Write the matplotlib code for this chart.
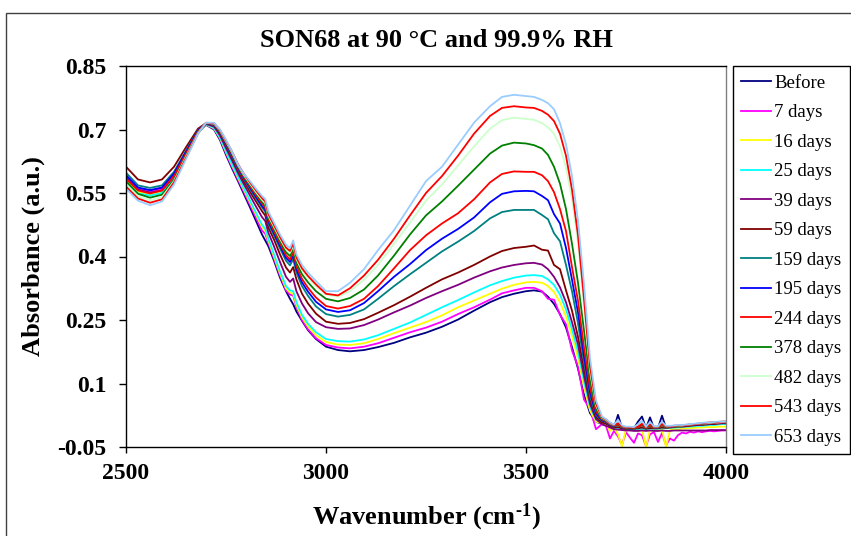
import matplotlib
matplotlib.use('Agg')
import matplotlib.pyplot as plt
from matplotlib.patches import Rectangle

plt.rcParams['font.family'] = ['Liberation Serif', 'DejaVu Serif']
plt.rcParams['mathtext.fontset'] = 'custom'
plt.rcParams['mathtext.rm'] = 'Liberation Serif:bold'
plt.rcParams['mathtext.default'] = 'regular'

# FTIR spectra of SON68 glass altered at 90 C / 99.9% RH
wavenumber = [2500, 2530, 2560, 2590, 2620, 2650, 2680, 2700, 2720,
              2735, 2750, 2765, 2780, 2795, 2810, 2825,
              2840, 2848, 2856, 2870, 2885, 2900, 2910, 2918, 2926, 2940, 2955, 2975,
              3000, 3030, 3060, 3095, 3130, 3170, 3210, 3250, 3290, 3330, 3370, 3410, 3440, 3470, 3500,
              3520, 3540, 3555, 3570, 3585, 3600, 3615, 3630, 3645, 3660, 3675, 3690,
              3700, 3710, 3720, 3730, 3740, 3750, 3760, 3770, 3780, 3790, 3800, 3810, 3820, 3830, 3840,
              3850, 3860, 3870, 3880, 3890, 3900, 3910, 3920, 3930, 3940, 3950, 3960, 3970, 3980, 3990, 4000]

labels = ['Before', '7 days', '16 days', '25 days', '39 days', '59 days', '159 days',
          '195 days', '244 days', '378 days', '482 days', '543 days', '653 days']

before = [.590, .560, .555, .561, .594, .643, .693, .711, .700,
          .675, .640, .608, .578, .547, .516, .484,
          .452, .438, .424, .390, .350, .318, .300, .287, .270, .248, .226, .205,
          .187, .179, .176, .179, .186, .196, .209, .220, .234, .251, .272, .292, .304, .312, .318,
          .320, .317, .305, .288, .264, .232, .186, .135, .074, .030, .010, .004,
          .001, -.002, -.004, .026, -.005, -.006, -.007, -.006, .010, .022, -.006, .020, -.006, -.005, .024,
          -.005, -.004, -.003, -.002, -.002, -.001, .000, .001, .002, .003, .004, .005, .005, .006, .007, .007]
days_7 = [.588, .559, .553, .559, .592, .641, .692, .711, .702,
          .678, .644, .612, .582, .552, .522, .492,
          .461, .454, .432, .395, .355, .320, .310, .308, .281, .250, .228, .207,
          .191, .185, .183, .187, .195, .208, .221, .232, .246, .264, .280, .298, .313, .320, .326,
          .326, .318, .300, .298, .262, .240, .178, .140, .062, .040, -.008, .004,
          .000, -.030, -.012, -.025, -.045, -.015, -.028, -.040, -.018, -.022, -.048, -.020, -.015, -.038, -.017,
          -.046, -.030, -.035, -.022, -.016, -.018, -.014, -.016, -.013, -.015, -.013, -.012, -.013, -.012, -.011, -.011]
days_16 = [.582, .553, .547, .553, .588, .638, .691, .712, .703,
           .680, .647, .616, .586, .557, .528, .499,
           .470, .461, .437, .400, .360, .325, .315, .312, .286, .256, .235, .214,
           .198, .192, .191, .195, .205, .219, .232, .245, .261, .280, .296, .312, .324, .333, .339,
           .340, .338, .330, .316, .292, .258, .212, .160, .092, .036, .010, .006,
           .004, -.012, -.005, -.020, -.048, -.008, -.010, -.006, -.012, -.008, -.050, -.009, -.006, -.012, -.008,
           -.050, -.010, -.007, -.009, -.006, -.006, -.005, -.005, -.004, -.004, -.003, -.003, -.003, -.002, -.002, -.002]
days_25 = [.576, .549, .544, .550, .586, .638, .691, .712, .704,
           .681, .649, .618, .589, .560, .532, .503,
           .475, .466, .442, .405, .365, .330, .320, .318, .292, .262, .241, .221,
           .205, .200, .199, .204, .214, .229, .244, .262, .280, .297, .315, .332, .342, .350, .355,
           .356, .354, .346, .333, .310, .275, .228, .175, .105, .045, .014, .008,
           .005, .000, -.004, -.006, -.008, -.008, -.008, -.008, -.008, -.007, -.008, -.007, -.007, -.007, -.006,
           -.006, -.005, -.004, -.004, -.003, -.002, -.002, -.001, .000, .000, .001, .002, .002, .003, .004, .004]
days_39 = [.586, .558, .551, .556, .590, .641, .693, .713, .707,
           .686, .656, .627, .597, .570, .544, .518,
           .493, .484, .456, .424, .387, .352, .340, .348, .318, .289, .266, .245,
           .233, .229, .230, .238, .251, .268, .284, .302, .318, .333, .350, .365, .374, .380, .384,
           .385, .381, .370, .352, .327, .292, .245, .192, .118, .052, .016, .004,
           .000, -.004, -.008, -.009, -.010, -.011, -.011, -.012, -.012, -.011, -.012, -.011, -.012, -.012, -.011,
           -.012, -.012, -.011, -.011, -.011, -.011, -.011, -.011, -.011, -.011, -.011, -.010, -.010, -.010, -.010, -.010]
days_59 = [.612, .582, .575, .582, .612, .658, .702, .715, .710,
           .690, .662, .633, .603, .577, .553, .530,
           .507, .497, .468, .440, .405, .374, .362, .375, .346, .312, .289, .265,
           .246, .241, .243, .252, .267, .285, .305, .326, .346, .362, .380, .400, .413, .420, .423,
           .426, .416, .414, .380, .370, .320, .272, .210, .135, .062, .021, .008,
           .005, .000, -.004, -.003, -.006, -.007, -.007, -.007, -.006, -.004, -.007, -.005, -.006, -.006, -.004,
           -.005, -.004, -.003, -.002, -.002, -.001, .000, .001, .002, .002, .003, .004, .004, .005, .006, .006]
days_159 = [.598, .568, .562, .568, .600, .650, .698, .715, .711,
            .693, .665, .637, .607, .582, .559, .537,
            .516, .506, .477, .450, .419, .390, .379, .394, .362, .330, .307, .282,
            .264, .258, .262, .275, .300, .330, .358, .385, .412, .435, .460, .490, .505, .510, .510,
            .510, .498, .488, .455, .436, .380, .318, .242, .150, .070, .026, .012,
            .009, .002, -.002, .002, -.004, -.006, -.006, -.006, -.004, .001, -.006, .000, -.005, -.005, .001,
            -.004, -.003, -.002, -.001, .000, .001, .002, .003, .004, .004, .005, .006, .007, .008, .008, .009]
days_195 = [.592, .563, .557, .563, .596, .647, .697, .715, .712,
            .694, .667, .640, .610, .585, .563, .541,
            .520, .511, .482, .455, .425, .397, .387, .402, .370, .339, .317, .293,
            .275, .269, .273, .290, .318, .352, .382, .415, .442, .465, .492, .528, .548, .554, .555,
            .554, .543, .533, .500, .478, .420, .345, .268, .165, .080, .029, .013,
            .010, .003, -.001, .006, -.004, -.005, -.006, -.005, -.001, .008, -.005, .006, -.004, -.004, .007,
            -.003, -.002, -.001, .000, .000, .001, .002, .003, .003, .004, .005, .006, .006, .007, .008, .008]
days_244 = [.584, .556, .549, .556, .590, .643, .695, .715, .713,
            .695, .669, .642, .612, .587, .566, .545,
            .525, .516, .487, .460, .431, .403, .393, .409, .377, .347, .326, .303,
            .283, .277, .283, .300, .330, .372, .415, .450, .478, .502, .535, .575, .595, .601, .600,
            .600, .592, .578, .552, .512, .460, .375, .295, .185, .090, .034, .015,
            .011, .004, .000, .003, -.003, -.005, -.005, -.005, -.003, .002, -.005, .001, -.004, -.004, .002,
            -.003, -.002, -.001, .000, .000, .001, .002, .003, .004, .005, .005, .006, .007, .007, .008, .008]
days_378 = [.578, .548, .539, .546, .582, .638, .693, .715, .714,
            .696, .671, .644, .614, .590, .569, .549,
            .529, .521, .492, .465, .436, .410, .401, .417, .385, .358, .339, .318,
            .300, .294, .302, .322, .355, .402, .452, .497, .530, .567, .605, .643, .662, .669, .667,
            .663, .655, .640, .612, .572, .512, .430, .338, .225, .108, .040, .016,
            .013, .006, .001, .005, -.002, -.004, -.004, -.004, -.002, .004, -.004, .003, -.003, -.003, .004,
            -.002, -.001, .000, .000, .001, .002, .003, .004, .005, .005, .006, .007, .008, .009, .009, .010]
days_482 = [.570, .542, .533, .540, .578, .636, .692, .716, .714,
            .698, .672, .646, .616, .592, .572, .552,
            .534, .526, .496, .470, .442, .417, .409, .426, .394, .368, .350, .330,
            .310, .305, .318, .345, .380, .430, .480, .532, .570, .615, .660, .702, .722, .728, .725,
            .723, .715, .705, .690, .660, .610, .535, .432, .285, .130, .048, .019,
            .014, .006, .002, .008, -.001, -.003, -.003, -.003, .000, .008, -.003, .006, -.002, -.002, .006,
            -.001, -.001, .000, .001, .001, .002, .003, .004, .005, .006, .006, .007, .008, .008, .009, .009]
days_543 = [.565, .537, .527, .535, .575, .633, .691, .716, .715,
            .699, .674, .648, .618, .595, .575, .556,
            .538, .530, .500, .474, .446, .421, .413, .431, .398, .372, .354, .334,
            .312, .308, .325, .355, .392, .442, .497, .550, .590, .638, .690, .732, .751, .755, .752,
            .751, .744, .735, .720, .690, .638, .558, .450, .300, .140, .052, .020,
            .015, .007, .002, .006, -.001, -.003, -.003, -.004, -.002, .005, -.003, .004, -.002, -.002, .005,
            -.001, -.001, .000, .001, .002, .002, .003, .004, .005, .006, .007, .008, .008, .009, .010, .010]
days_653 = [.560, .532, .521, .530, .570, .630, .690, .716, .716,
            .700, .676, .648, .617, .595, .578, .560,
            .543, .536, .506, .480, .452, .428, .420, .438, .405, .380, .362, .342,
            .318, .318, .338, .370, .415, .462, .520, .578, .612, .664, .716, .755, .777, .782, .779,
            .777, .770, .762, .748, .715, .665, .590, .485, .335, .160, .060, .022,
            .016, .008, .003, .014, .001, -.002, -.002, -.003, .004, .012, -.002, .009, -.001, -.001, .010,
            .000, .000, .001, .002, .002, .003, .004, .005, .006, .007, .008, .008, .009, .010, .010, .011]

series = [before, days_7, days_16, days_25, days_39, days_59, days_159,
          days_195, days_244, days_378, days_482, days_543, days_653]
colors = ['#000080', '#FF00FF', '#FFFF00', '#00FFFF', '#800080', '#800000', '#008080',
          '#0000FF', '#FF0000', '#008000', '#CCFFCC', '#FF0000', '#99CCFF']

xticks = [2500, 3000, 3500, 4000]
yticks = [-0.05, 0.1, 0.25, 0.4, 0.55, 0.7, 0.85]
ytick_labels = ['-0.05', '0.1', '0.25', '0.4', '0.55', '0.7', '0.85']

W, H = 851, 536
fig = plt.figure(figsize=(W / 100, H / 100), dpi=100)

# chart area border
fig.add_artist(Rectangle((6 / W, -0.1), 1.5, 1 - 13 / H + 0.1, transform=fig.transFigure,
                         fill=False, ec='#404040', lw=1))

ax = fig.add_axes([126 / W, 1 - 447 / H, 600 / W, 381 / H])
for vals, col, lab in zip(series, colors, labels):
    ax.plot(wavenumber, vals, color=col, lw=1.3, label=lab)

ax.set_xlim(2500, 4000)
ax.set_ylim(-0.05, 0.85)
ax.set_xticks(xticks)
ax.set_xticklabels([str(t) for t in xticks])
ax.set_yticks(yticks)
ax.set_yticklabels(ytick_labels)
for lbl in ax.get_xticklabels() + ax.get_yticklabels():
    lbl.set_fontweight('bold')
    lbl.set_fontsize(17)
ax.tick_params(axis='y', direction='out', length=5, width=1, pad=9)
ax.tick_params(axis='x', direction='out', length=4.5, width=1, pad=7)
for sp in ax.spines.values():
    sp.set_linewidth(1)
    sp.set_color('black')
ax.spines['right'].set_color('#808080')

ax.set_title('SON68 at 90 °C and 99.9% RH', fontsize=19, fontweight='bold', pad=14,
             x=(437 - 126) / 600)
ax.set_ylabel('Absorbance (a.u.)', fontsize=19, fontweight='bold', labelpad=9)
ax.set_xlabel('Wavenumber (cm$^{\u20101}$)', fontsize=19, fontweight='bold', labelpad=13)

leg = ax.legend(loc='upper left', bbox_to_anchor=(733 / W, 1 - 66 / H),
                bbox_transform=fig.transFigure, borderaxespad=0, frameon=True,
                fancybox=False, framealpha=1, edgecolor='black', fontsize=13.5,
                handlelength=1.55, handletextpad=0.2, labelspacing=0.66, borderpad=0.45)
leg.get_frame().set_linewidth(1)

fig.savefig('out.png', dpi=100)
